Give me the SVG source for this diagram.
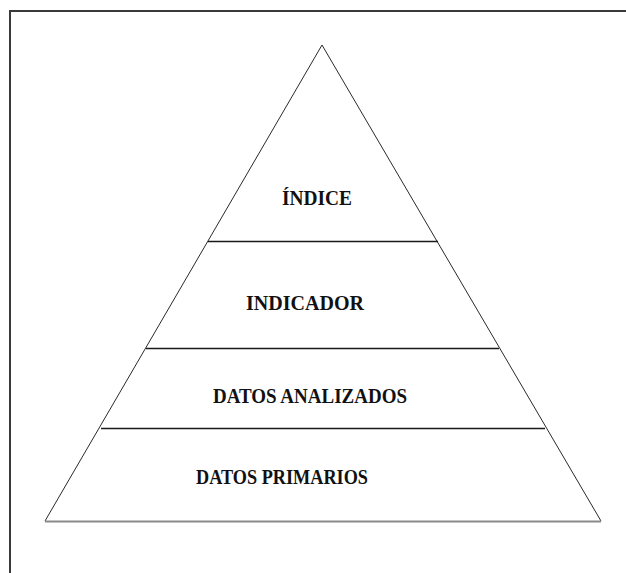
<svg xmlns="http://www.w3.org/2000/svg" width="626" height="573" viewBox="0 0 626 573">
<style>
.frame{stroke:#3a3a3a;stroke-width:2;fill:none}
.edge{stroke:#2a2a2a;stroke-width:1;fill:none}
.div{stroke:#1a1a1a;stroke-width:1.3;fill:none}
.base{stroke:#8a8a8a;stroke-width:1.8;fill:none}
.lbl{font-family:"Liberation Serif","Times New Roman",serif;font-weight:bold;font-size:20px;fill:#111}
</style>
<rect width="626" height="573" fill="#fff"/>
<g id="frame">
<line class="frame" x1="10" y1="11" x2="626" y2="11"/>
<line class="frame" x1="10" y1="10" x2="10" y2="573"/>
</g>
<g id="connectors">
<line class="edge" x1="322" y1="45" x2="45" y2="521"/>
<line class="edge" x1="322" y1="45" x2="601" y2="521"/>
</g>
<g id="indice">
<line class="div" x1="208" y1="241.5" x2="438" y2="241.5"/>
<text class="lbl" x="282" y="205" textLength="70" lengthAdjust="spacingAndGlyphs">ÍNDICE</text>
</g>
<g id="indicador">
<line class="div" x1="146" y1="348.5" x2="499" y2="348.5"/>
<text class="lbl" x="246" y="310" textLength="118" lengthAdjust="spacingAndGlyphs">INDICADOR</text>
</g>
<g id="datos-analizados">
<line class="div" x1="101" y1="428.5" x2="545" y2="428.5"/>
<text class="lbl" x="213" y="403" textLength="194" lengthAdjust="spacingAndGlyphs">DATOS ANALIZADOS</text>
</g>
<g id="datos-primarios">
<line class="base" x1="45" y1="521.5" x2="601" y2="521.5"/>
<text class="lbl" x="196" y="484" textLength="172" lengthAdjust="spacingAndGlyphs">DATOS PRIMARIOS</text>
</g>
</svg>
